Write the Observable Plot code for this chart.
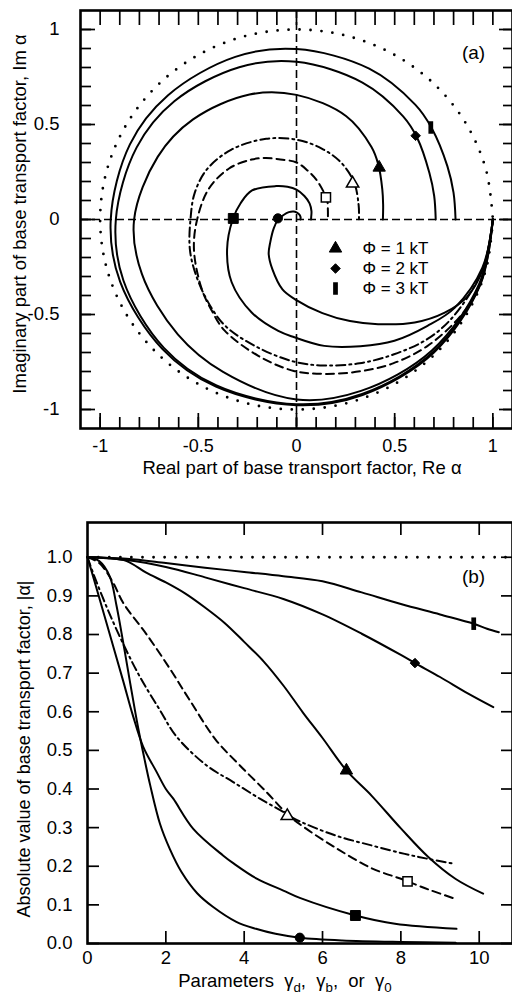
<!DOCTYPE html>
<html><head><meta charset="utf-8">
<script src="https://cdn.jsdelivr.net/npm/d3@7"></script>
<script src="https://cdn.jsdelivr.net/npm/@observablehq/plot@0.6"></script>
<style>
body{margin:0;background:#fff;}
#wrap{position:relative;width:512px;height:995px;overflow:hidden;background:#fff;}
#pa{position:absolute;left:0;top:0;}
#pb{position:absolute;left:0;top:500px;}
</style></head><body><div id="wrap"><div id="pa"></div><div id="pb"></div></div>
<script>
// ================= Panel (a): phase of alpha (degrees) and |alpha| along each curve =================
const dotPhase = [0,-15,-30,-45,-60,-75,-90,-105,-120,-135,-150,-165,-180,-195,-210,-225,-240,-255,-270,-285,-300,-315,-330,-345,-360];
const dotMag   = [1,1,1,1,1,1,1,1,1,1,1,1,1,1,1,1,1,1,1,1,1,1,1,1,1];

const kT3Phase = [0,-20,-45,-70,-90,-115,-135,-160,-180,-205,-225,-250,-270,-295,-315,-325,-340,-350,-360];
const kT3Mag   = [1.0,0.997,0.99,0.983,0.977,0.971,0.965,0.956,0.946,0.936,0.925,0.911,0.897,0.876,0.855,0.840,0.818,0.812,0.81];
const kT2Phase = [0,-20,-45,-70,-90,-115,-135,-160,-180,-205,-225,-250,-270,-295,-315,-325,-340,-350,-360];
const kT2Mag   = [1.0,0.995,0.985,0.977,0.972,0.964,0.955,0.938,0.92,0.898,0.88,0.853,0.83,0.795,0.768,0.75,0.72,0.712,0.709];
const kT1Phase = [0,-20,-45,-70,-90,-115,-135,-160,-180,-205,-225,-250,-270,-295,-315,-325,-340,-350,-360];
const kT1Mag   = [1.0,0.99,0.975,0.96,0.947,0.885,0.855,0.838,0.827,0.78,0.745,0.70,0.656,0.60,0.54,0.508,0.465,0.448,0.44];
const dashDotPhase = [0,-15,-32,-43,-55,-67,-80,-91,-107,-123,-136,-151,-164,-180,-195,-210,-228,-250,-270,-289,-307,-326,-347,-360];
const dashDotMag   = [1.0,0.985,0.949,0.918,0.866,0.822,0.78,0.748,0.70,0.667,0.626,0.588,0.565,0.54,0.537,0.527,0.495,0.452,0.42,0.395,0.376,0.353,0.325,0.318];
const dashPhase = [0,-20,-31,-45,-57,-68,-80,-91,-105,-122,-132,-143,-163,-180,-200,-218,-234,-244,-254,-270,-283,-296,-316,-325,-342,-360];
const dashMag   = [1.0,0.995,0.978,0.942,0.903,0.862,0.825,0.797,0.744,0.69,0.645,0.605,0.546,0.506,0.475,0.436,0.39,0.36,0.33,0.30,0.262,0.232,0.198,0.19,0.168,0.16];
const sqPhase = [0,-15,-30,-40,-52,-64,-78,-91,-99,-115,-135,-156,-180,-197,-214,-239,-255,-270,-288,-308,-330,-350,-360];
const sqMag   = [1.0,0.98,0.93,0.871,0.81,0.742,0.68,0.62,0.594,0.54,0.467,0.387,0.325,0.297,0.273,0.205,0.178,0.157,0.13,0.108,0.088,0.076,0.074];
const ciPhase = [0,-15,-25,-33,-42,-53,-63,-75,-91,-101,-115,-128,-138,-158,-180,-200,-225,-250,-270,-300,-330,-360];
const ciMag   = [1.0,0.985,0.96,0.90,0.81,0.69,0.60,0.51,0.42,0.375,0.29,0.23,0.18,0.125,0.093,0.07,0.055,0.045,0.038,0.03,0.024,0.02];

// markers on the curves of panel (a)
const markerNames = ["bar","diamond","triangle","triangleOpen","squareOpen","square","circle"];
const markPhaseA  = [-324.7,-324,-327,-326.4,-322,-181,-183.6];
const markMagA    = [0.838,0.75,0.502,0.343,0.19,0.322,0.095];

// ================= Panel (b): |alpha| versus parameter gamma =================
const dotGamma = [0,2,4,6,8,10,10.85];
const dotAbs   = [1,1,1,1,1,1,1];
const kT3Gamma = [0,1,2,3,4,5,6,7,8,9,9.86,10.2,10.5];
const kT3Abs   = [1.0,0.996,0.985,0.973,0.962,0.951,0.938,0.909,0.879,0.852,0.828,0.815,0.806];
const kT2Gamma = [0,1,2,3,4,5,6,7,8,8.36,9,9.72,10.36];
const kT2Abs   = [1.0,0.993,0.975,0.948,0.92,0.892,0.852,0.802,0.747,0.726,0.69,0.647,0.612];
const kT1Gamma = [0,0.5,1,1.5,2,2.5,3,3.5,4,4.5,5,5.5,6,6.61,7.25,8,8.7,9.4,10.1];
const kT1Abs   = [1.0,0.998,0.99,0.96,0.935,0.906,0.87,0.83,0.781,0.73,0.668,0.598,0.532,0.448,0.383,0.298,0.224,0.167,0.129];
const dashGamma = [0,0.3,0.65,0.91,1.51,2.1,2.61,3.27,3.89,4.57,5.12,5.5,6.3,7.25,8.02,8.17,8.7,9.38];
const dashAbs   = [1.0,0.985,0.935,0.882,0.80,0.712,0.63,0.528,0.461,0.392,0.333,0.303,0.25,0.195,0.167,0.161,0.14,0.116];
const dashDotGamma = [0,0.14,0.49,0.91,1.34,1.85,2.27,3.04,3.72,4.4,5.08,5.3,6.32,7.25,8.1,8.7,9.38];
const dashDotAbs   = [1.0,0.96,0.871,0.776,0.69,0.604,0.536,0.461,0.418,0.375,0.336,0.322,0.28,0.254,0.232,0.219,0.206];
const sqGamma = [0,0.23,0.57,0.91,1.16,1.42,1.76,2.0,2.19,2.7,3.46,3.72,4.32,5.0,5.42,6.84,7.85,9.42];
const sqAbs   = [1.0,0.92,0.80,0.68,0.59,0.51,0.445,0.40,0.375,0.297,0.228,0.208,0.168,0.137,0.118,0.0725,0.051,0.038];
const ciGamma = [0,0.3,0.57,0.74,0.91,1.08,1.29,1.45,1.6,1.85,2.1,2.4,2.8,3.2,3.8,4.3,4.8,5.42,6.5,8,9.4];
const ciAbs   = [1.0,0.99,0.95,0.875,0.78,0.68,0.56,0.48,0.41,0.31,0.245,0.185,0.13,0.095,0.056,0.038,0.025,0.015,0.008,0.004,0.002];

const markGammaB = [9.86,8.36,6.61,5.1,8.17,6.84,5.42];
const markAbsB   = [0.828,0.726,0.448,0.33,0.161,0.0725,0.015];

// ================= axes =================
const aMinorTicks = [-1,-0.9,-0.8,-0.7,-0.6,-0.5,-0.4,-0.3,-0.2,-0.1,0,0.1,0.2,0.3,0.4,0.5,0.6,0.7,0.8,0.9,1];
const aMajorTicks = [-1,-0.5,0,0.5,1];
const bYTicks = [0,0.1,0.2,0.3,0.4,0.5,0.6,0.7,0.8,0.9,1.0];
const bXTicks = [2,4,6,8,10];
const bXLabels = [0,2,4,6,8,10];
const legendLabels = ["\u03A6 = 1 kT","\u03A6 = 2 kT","\u03A6 = 3 kT"];
const legendMarkers = ["triangle","diamond","bar"];

// ================= helpers =================
const FONT = "'Liberation Sans', Arial, Helvetica, sans-serif";
const zip = (a, b, ka, kb) => a.map((v, i) => ({[ka]: v, [kb]: b[i]}));
const rad = Math.PI / 180;
const px = d => d.m * Math.cos(d.p * rad);
const py = d => d.m * Math.sin(d.p * rad);

const barSymbol = {draw(ctx, size) {
  const r = Math.sqrt(size / Math.PI), h = 2.5 * r, w = 0.95 * r;
  ctx.moveTo(-w/2, -h/2); ctx.lineTo(w/2, -h/2); ctx.lineTo(w/2, h/2); ctx.lineTo(-w/2, h/2); ctx.closePath();
}};
const markerStyle = {
  bar:          {symbol: barSymbol, r: 5, fill: "black", stroke: "none"},
  diamond:      {symbol: "diamond2", r: 4.3, fill: "black", stroke: "black", strokeWidth: 1},
  triangle:     {symbol: "triangle", r: 4.6, fill: "black", stroke: "black", strokeWidth: 1},
  triangleOpen: {symbol: "triangle", r: 4.6, fill: "white", stroke: "black", strokeWidth: 1.5},
  squareOpen:   {symbol: "square", r: 5.2, fill: "white", stroke: "black", strokeWidth: 1.5},
  square:       {symbol: "square", r: 5.6, fill: "black", stroke: "black", strokeWidth: 1},
  circle:       {symbol: "circle", r: 4.6, fill: "black", stroke: "black", strokeWidth: 1}
};
const lineStyle = {
  solid:   {stroke: "black", strokeWidth: 2},
  dashed:  {stroke: "black", strokeWidth: 2, strokeDasharray: "8,5"},
  dashdot: {stroke: "black", strokeWidth: 2, strokeDasharray: "9,4,2,4"},
  dotted:  {stroke: "black", strokeWidth: 2.8, strokeDasharray: "0,11", strokeLinecap: "round"}
};

const seriesA = [
  [dotPhase, dotMag, "dotted"], [kT3Phase, kT3Mag, "solid"], [kT2Phase, kT2Mag, "solid"],
  [kT1Phase, kT1Mag, "solid"], [dashDotPhase, dashDotMag, "dashdot"], [dashPhase, dashMag, "dashed"],
  [sqPhase, sqMag, "solid"], [ciPhase, ciMag, "solid"]
];
const seriesB = [
  [dotGamma, dotAbs, "dotted"], [kT3Gamma, kT3Abs, "solid"], [kT2Gamma, kT2Abs, "solid"],
  [kT1Gamma, kT1Abs, "solid"], [dashDotGamma, dashDotAbs, "dashdot"], [dashGamma, dashAbs, "dashed"],
  [sqGamma, sqAbs, "solid"], [ciGamma, ciAbs, "solid"]
];

function inward(axis, values, anchor, size) {
  return axis(values, {anchor, tickSize: -size, fill: "none", strokeWidth: 1.7, label: null});
}

// ================= Panel (a) =================
const marksA = [
  Plot.ruleX([0], {stroke: "black", strokeWidth: 1.6, strokeDasharray: "8,4"}),
  Plot.ruleY([0], {stroke: "black", strokeWidth: 1.6, strokeDasharray: "8,4"}),
  ...seriesA.map(([ph, mg, st]) => Plot.line(zip(ph, mg, "p", "m"), {x: px, y: py, curve: "catmull-rom", ...lineStyle[st]})),
  ...markerNames.map((n, i) => Plot.dot([{p: markPhaseA[i], m: markMagA[i]}], {x: px, y: py, ...markerStyle[n]})),
  ...legendMarkers.map((n, i) => Plot.dot([n], {frameAnchor: "top-left", dx: 255, dy: 238 + 20 * i, ...markerStyle[n]})),
  ...legendLabels.map((t, i) => Plot.text([t], {frameAnchor: "top-left", dx: 282, dy: 238 + 20 * i, textAnchor: "start", lineAnchor: "middle", fontSize: 17})),
  Plot.text(["(a)"], {frameAnchor: "top-right", dx: -39, dy: 42, textAnchor: "middle", lineAnchor: "middle", fontSize: 19}),
  Plot.frame({stroke: "black", strokeWidth: 2.6}),
  inward(Plot.axisX, aMinorTicks, "bottom", 11), inward(Plot.axisX, aMajorTicks, "bottom", 15),
  inward(Plot.axisX, aMinorTicks, "top", 14),
  inward(Plot.axisY, aMinorTicks, "left", 11), inward(Plot.axisY, aMajorTicks, "left", 15),
  inward(Plot.axisY, aMinorTicks, "right", 10), inward(Plot.axisY, aMajorTicks, "right", 14),
  Plot.axisX(aMajorTicks, {anchor: "bottom", tickSize: 0, tickPadding: 11, tickFormat: d => String(d), label: null, fontSize: 18}),
  Plot.axisY(aMajorTicks, {anchor: "left", tickSize: 0, tickPadding: 21, tickFormat: d => String(d), label: null, fontSize: 18.5})
];
const plotA = Plot.plot({
  width: 512, height: 478, marginLeft: 80, marginRight: 0, marginTop: 10, marginBottom: 50,
  x: {domain: [-1.1, 1.1]}, y: {domain: [-1.1, 1.1]},
  style: {fontFamily: FONT, fontSize: "18.5px", background: "white", color: "black", overflow: "visible"},
  marks: marksA
});
document.getElementById("pa").appendChild(plotA);

// ================= Panel (b) =================
const marksB = [
  ...seriesB.map(([g, a, st]) => Plot.line(zip(g, a, "g", "a"), {x: "g", y: "a", curve: "catmull-rom", ...lineStyle[st]})),
  ...markerNames.map((n, i) => Plot.dot([{g: markGammaB[i], a: markAbsB[i]}], {x: "g", y: "a", ...markerStyle[n]})),
  Plot.text(["(b)"], {frameAnchor: "top-right", dx: -39, dy: 54, textAnchor: "middle", lineAnchor: "middle", fontSize: 19}),
  Plot.frame({stroke: "black", strokeWidth: 2.6}),
  inward(Plot.axisX, bXTicks, "bottom", 12), inward(Plot.axisX, bXTicks, "top", 12),
  inward(Plot.axisY, bYTicks, "left", 12), inward(Plot.axisY, bYTicks, "right", 12),
  Plot.axisX(bXLabels, {anchor: "bottom", tickSize: 0, tickPadding: 7, tickFormat: d => String(d), label: null, fontSize: 18.5}),
  Plot.axisY(bYTicks, {anchor: "left", tickSize: 0, tickPadding: 15, tickFormat: d => d.toFixed(1), label: null, fontSize: 18.5})
];
const plotB = Plot.plot({
  width: 512, height: 495, marginLeft: 87, marginRight: 0, marginTop: 22, marginBottom: 52,
  x: {domain: [0, 10.85]}, y: {domain: [0, 1.09]},
  style: {fontFamily: FONT, fontSize: "18.5px", background: "white", color: "black", overflow: "visible"},
  marks: marksB
});
document.getElementById("pb").appendChild(plotB);

// ================= axis titles =================
function title(svg, x, y, rot, parts, size) {
  const t = d3.select(svg).append("text")
    .attr("transform", `translate(${x},${y})` + (rot ? ` rotate(${rot})` : ""))
    .attr("text-anchor", "middle").attr("font-family", FONT).attr("font-size", size).attr("fill", "black")
    .attr("xml:space", "preserve");
  let prevSub = false;
  parts.forEach(([s, sub]) => {
    const ts = t.append("tspan").text(s);
    if (sub && !prevSub) ts.attr("font-size", size * 0.72).attr("dy", 5);
    else if (!sub && prevSub) ts.attr("dy", -5);
    prevSub = !!sub;
  });
}
title(plotA, 302, 473.5, 0, [["Real part of base transport factor, Re \u03B1"]], 18.5);
title(plotA, 26, 214, -90, [["Imaginary part of base transport factor, Im \u03B1"]], 18.5);
title(plotB, 30, 249, -90, [["Absolute value of base transport factor, |\u03B1|"]], 18);
title(plotB, 285, 487, 0, [["Parameters  \u03B3"], ["d", 1], [",  \u03B3"], ["b", 1], [",  or  \u03B3"], ["0", 1]], 18.5);
</script></body></html>
